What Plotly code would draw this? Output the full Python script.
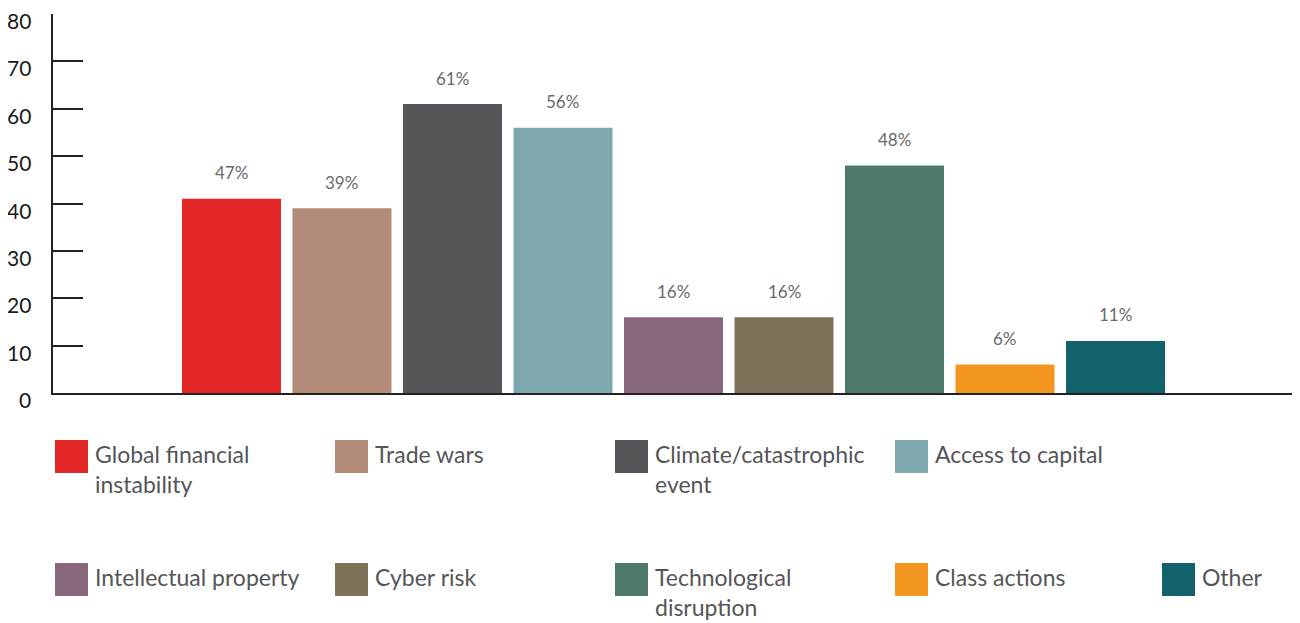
import plotly.graph_objects as go

categories = ["Global financial instability", "Trade wars", "Climate/catastrophic event",
              "Access to capital", "Intellectual property", "Cyber risk",
              "Technological disruption", "Class actions", "Other"]
legend_labels = ["Global financial<br>instability", "Trade wars", "Climate/catastrophic<br>event",
                 "Access to capital", "Intellectual property", "Cyber risk",
                 "Technological<br>disruption", "Class actions", "Other"]
values = [41, 39, 61, 56, 16, 16, 48, 6, 11]
value_labels = ["47%", "39%", "61%", "56%", "16%", "16%", "48%", "6%", "11%"]
colors = ["#E32726", "#B38B79", "#56555A", "#7FA7AE", "#88667C",
          "#7B7257", "#4F7A6B", "#F39620", "#12626B"]
y_ticks = [0, 10, 20, 30, 40, 50, 60, 70, 80]
y_tick_labels = ["0", "10", "20", "30", "40", "50", "60", "70", "80"]

# page body has an 8px margin; figure coordinates = screen coordinates - 8
OFF = 8
W, H = 1292, 615
ML, MR, MT, MB = 53 - OFF, 6, 14 - OFF, 230
PW = W - ML - MR
PH = H - MT - MB

FONT = "Lato"

fig = go.Figure()
fig.add_trace(go.Bar(
    x=list(range(len(categories))), y=values,
    marker=dict(color=colors, line=dict(width=0)),
    hovertext=categories, showlegend=False,
))

annotations = []
for i, (v, lab) in enumerate(zip(values, value_labels)):
    annotations.append(dict(x=i, y=v, xref="x", yref="y", text=lab, showarrow=False,
                            yanchor="middle", yshift=26,
                            font=dict(family=FONT, size=17, color="#6a6a6a")))

for t, tl in zip(y_ticks, y_tick_labels):
    annotations.append(dict(x=0, y=t, xref="paper", yref="y", text=tl, showarrow=False,
                            xanchor="right", yanchor="middle", xshift=-20, yshift=-6.5,
                            font=dict(family=FONT, size=21, color="#1a1a1a")))

def px_x(sx):
    return (sx - OFF - ML) / PW

def px_y(sy):
    return (MT + PH - (sy - OFF)) / PH

shapes = []
col_x = [55, 335, 615, 895, 1162]
row_top = [440, 563]
rows = [[0, 1, 2, 3], [4, 5, 6, 7, 8]]
sw = 33
for r, items in enumerate(rows):
    for c, idx in enumerate(items):
        x0 = col_x[c]
        y0 = row_top[r]
        shapes.append(dict(type="rect", xref="paper", yref="paper",
                           x0=px_x(x0), x1=px_x(x0 + sw),
                           y0=px_y(y0), y1=px_y(y0 + sw),
                           fillcolor=colors[idx], line=dict(width=0)))
        annotations.append(dict(xref="paper", yref="paper",
                                x=px_x(x0 + sw + 5), y=px_y(y0 - 2),
                                xanchor="left", yanchor="top", align="left",
                                text=legend_labels[idx], showarrow=False,
                                font=dict(family=FONT, size=23, color="#555559")))

shapes.append(dict(type="line", xref="paper", yref="paper", x0=1, x1=1,
                   y0=0, y1=8 / PH, line=dict(color="#222222", width=1.5)))

fig.update_layout(
    width=W, height=H,
    margin=dict(l=ML, r=MR, t=MT, b=MB, autoexpand=False),
    plot_bgcolor="white", paper_bgcolor="white",
    bargap=0.104,
    xaxis=dict(range=[-1.615, 9.615], showticklabels=False, ticks="",
               showgrid=False, zeroline=False, showline=True, automargin=False,
               linecolor="#222222", linewidth=1.5, fixedrange=True),
    yaxis=dict(range=[0, 80], tickvals=y_ticks, ticks="inside", ticklen=30,
               tickwidth=1.5, tickcolor="#222222", showgrid=False, zeroline=False,
               showline=True, linecolor="#222222", linewidth=1.5, automargin=False,
               showticklabels=False, fixedrange=True),
    annotations=annotations, shapes=shapes,
    showlegend=False,
)

fig.write_html("out.html")
